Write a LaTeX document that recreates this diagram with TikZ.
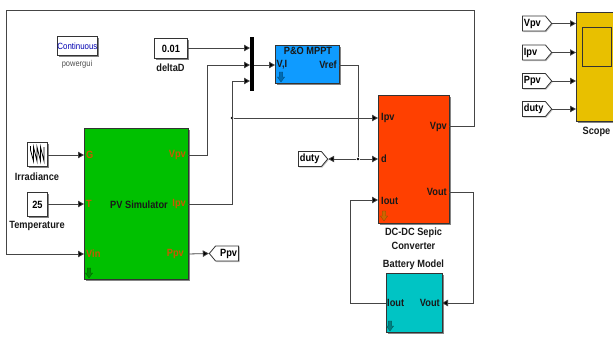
\documentclass[tikz,border=0pt]{standalone}
\usepackage{fontspec}
\setmainfont{Liberation Sans}[FakeStretch=0.88]
\usetikzlibrary{arrows.meta,shadows,shapes.symbols}
\definecolor{wire}{HTML}{454545}
\definecolor{pvgreen}{HTML}{00C000}
\definecolor{mpptblue}{HTML}{0F9BFF}
\definecolor{convred}{HTML}{FF4000}
\definecolor{battcyan}{HTML}{00C4C4}
\definecolor{scopey}{HTML}{E8C000}
\definecolor{porto}{HTML}{C85A00}
\newcommand{\labfont}{\fontsize{10.5}{11}\selectfont\bfseries}
\tikzset{
  blockbox/.style={draw=black!80,line width=0.8pt,anchor=north west,inner sep=0,drop shadow={shadow xshift=1.2pt,shadow yshift=-1.2pt,fill=black!60,opacity=0.8}},
  wirepath/.style={draw=wire,line width=0.8pt},
  arrowed/.style={wirepath,-{Triangle[length=6pt,width=6.5pt,fill=black]}},
  lab/.style={font=\labfont,text=black!90,inner sep=0},
  portblack/.style={lab},
  portor/.style={lab,text=porto},
  tagcommon/.style={signal,signal from=nowhere,signal pointer angle=100,draw=black!80,line width=0.8pt,fill=white,minimum height=15pt,inner xsep=1.5pt,inner ysep=0.5pt,text width=20pt,font=\labfont,text=black,drop shadow={shadow xshift=1pt,shadow yshift=-1pt,fill=black!50}},
  tagbox/.style={tagcommon,signal to=east,align=left},
  tagboxl/.style={tagcommon,signal to=west,align=right},
  dotj/.style={circle,fill=black,inner sep=0,minimum size=2.8pt},
}
\newcommand{\downmark}[3]{\fill[#3,draw=#3!70!black,line width=0.3pt] (#1-1.8,#2-5) -- (#1+1.8,#2-5) -- (#1+1.8,#2) -- (#1+3.6,#2) -- (#1,#2+5) -- (#1-3.6,#2) -- (#1-1.8,#2) -- cycle;}
\begin{document}
\begin{tikzpicture}[x=1pt,y=-1pt]
\useasboundingbox (0,0) rectangle (613,338);
% powergui
\node[blockbox,fill=white,minimum width=40pt,minimum height=19pt,font=\fontsize{9}{10}\selectfont,text=blue!70!black] (pg) at (57,36) {Continuous};
\node[font=\fontsize{8.5}{9}\selectfont,text=black!70,inner sep=0] (pgl) at (77,64) {powergui};
% constants
\node[blockbox,fill=white,minimum width=33pt,minimum height=20pt,font=\labfont] (dd) at (154,38) {0.01};
\node[lab] (ddl) at (170.5,68) {deltaD};
\node[blockbox,fill=white,minimum width=20pt,minimum height=24pt] (irr) at (27,142) {};
\draw[black,line width=0.8pt,line join=miter]
  (30.5,146) -- (30.5,150) -- (33.5,161) -- (33.5,147) -- (37,161) -- (37,147) -- (40.5,161) -- (40.5,147) -- (44,161) -- (44,147);
\node[lab] (irrl) at (37,177) {Irradiance};
\node[blockbox,fill=white,minimum width=20pt,minimum height=24pt,font=\labfont] (tmp) at (27,192) {25};
\node[lab] (tmpl) at (37,226) {Temperature};
% PV
\node[blockbox,fill=pvgreen,minimum width=104pt,minimum height=151pt] (pv) at (84,128) {};
\node[lab] (pvt) at (139,205) {PV Simulator};
\node[portor,anchor=west] (pvg) at (86,155) {G};
\node[portor,anchor=west] (pvtt) at (86,204) {T};
\node[portor,anchor=west] (pvv) at (86,254) {Vin};
\node[portor,anchor=east] (pvo1) at (186,155) {Vpv};
\node[portor,anchor=east] (pvo2) at (186,204) {Ipv};
\node[portor,anchor=east] (pvo3) at (184,254) {Ppv};
\downmark{89}{273}{green!55!black}
% mux
\node[fill=black,anchor=north west,minimum width=4pt,minimum height=54pt,inner sep=0] (mux) at (250,37) {};
% MPPT
\node[blockbox,fill=mpptblue,minimum width=64pt,minimum height=38pt] (mp) at (275,45) {};
\node[lab] (mpt) at (308,51) {P\&O MPPT};
\node[portblack,anchor=west] (mpi) at (276.5,65) {V,I};
\node[portblack,anchor=east] (mpo) at (337,65) {Vref};
\downmark{281}{77}{blue!40!cyan!70!black}
% Converter
\node[blockbox,fill=convred,minimum width=71pt,minimum height=128pt] (cv) at (378,95) {};
\node[portblack,anchor=west] (cv1) at (381,118) {Ipv};
\node[portblack,anchor=west] (cv2) at (381,159) {d};
\node[portblack,anchor=west] (cv3) at (381,201) {Iout};
\node[portblack,anchor=east] (cv4) at (447,127) {Vpv};
\node[portblack,anchor=east] (cv5) at (447,192) {Vout};
\downmark{384}{216}{orange!80!black}
\node[lab] (cvl1) at (413.5,232.5) {DC-DC Sepic};
\node[lab] (cvl2) at (413.5,246) {Converter};
% Battery
\node[lab] (bal) at (413.5,265) {Battery Model};
\node[blockbox,fill=battcyan,minimum width=56pt,minimum height=59pt] (ba) at (386,273) {};
\node[portblack,anchor=west] (ba1) at (387,303) {Iout};
\node[portblack,anchor=east] (ba2) at (440,303) {Vout};
\downmark{390}{326}{teal}
% Scope
\node[blockbox,fill=scopey,minimum width=39pt,minimum height=109pt] (sc) at (576,12) {};
\draw[black!80,line width=0.7pt] (582,27) rectangle (611,66);
\node[lab] (scl) at (596.5,131.5) {Scope};
% tags
\node[tagbox,anchor=west] (t1) at (522,23.5) {Vpv};
\node[tagbox,anchor=west] (t2) at (522,52.5) {Ipv};
\node[tagbox,anchor=west] (t3) at (522,81) {Ppv};
\node[tagbox,anchor=west] (t4) at (522,109) {duty};
\node[tagbox,anchor=west] (td) at (298,159) {duty};
\node[tagboxl,anchor=east] (tp) at (239,253.5) {Ppv};
% named wire points
\coordinate (mi1) at (250,48);
\coordinate (mi2) at (250,65);
\coordinate (mi3) at (250,81);
\coordinate (mo) at (254,65);
\node[dotj] (j1) at (232,118) {};
\node[dotj] (j2) at (358,159) {};
% wires
\draw[arrowed] (187,48) -- (mi1);
\draw[arrowed] (188,155) -- (207,155) -- (207,65) -- (mi2);
\draw[arrowed] (188,204) -- (232,204) -- (232,81) -- (mi3);
\draw[arrowed] (mo) -- (275,65);
\draw[arrowed] (j1) -- (378,118);
\draw[wirepath] (339,65) -- (358,65) -- (j2);
\draw[arrowed] (j2) -- (378,159);
\draw[arrowed] (j2) -- (td.east);
\draw[arrowed] (47,155) -- (84,155);
\draw[arrowed] (47,204) -- (84,204);
\draw[arrowed] (449,126) -- (474,126) -- (474,10) -- (6,10) -- (6,254) -- (84,254);
\draw[arrowed] (188,254) -- (tp.west);
\draw[arrowed] (449,192) -- (473,192) -- (473,303) -- (442,303);
\draw[arrowed] (386,303) -- (350,303) -- (350,200) -- (378,200);
\draw[arrowed] (t1.east) -- (576,23.5);
\draw[arrowed] (t2.east) -- (576,52.5);
\draw[arrowed] (t3.east) -- (576,81);
\draw[arrowed] (t4.east) -- (576,109);
\end{tikzpicture}
\end{document}
